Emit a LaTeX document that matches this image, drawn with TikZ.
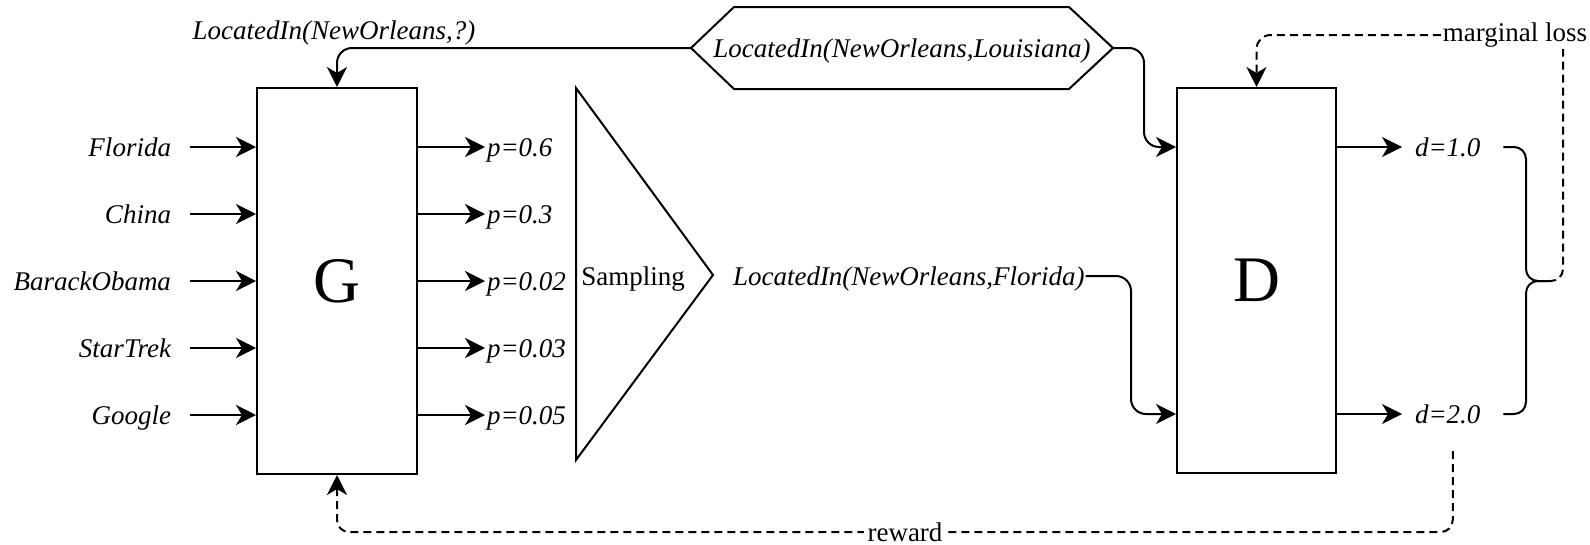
\documentclass[tikz,border=0pt]{standalone}
\usepackage{fontspec}
\setmainfont{Liberation Serif}
\usetikzlibrary{arrows.meta,calc}
\begin{document}
\begin{tikzpicture}[x=1pt,y=-1pt,
  line width=2pt,
  lbl/.style={font=\fontsize{27}{32}\selectfont\itshape, inner sep=0pt, text height=18pt, text depth=0pt},
  plain/.style={font=\fontsize{27}{32}\selectfont, inner sep=0pt, text height=18pt, text depth=0pt},
  block/.style={draw, minimum width=160pt, minimum height=386pt, inner sep=0pt, font=\fontsize{65}{70}\selectfont},
  arr/.style={-{Stealth[length=20pt,width=20pt,inset=6pt]}},
  fb/.style={dash pattern=on 8pt off 5pt},
]
\useasboundingbox (0,0) rectangle (1590,544);

% generator and discriminator
\node[block] (G) at (337,281) {G};
\node[block, minimum width=159pt, minimum height=385pt] (D) at (1256.5,280.5) {D};

% candidate entities fed into G
\foreach \nm/\txt/\y in {i1/Florida/147, i2/China/214, i3/BarackObama/281, i4/StarTrek/348, i5/Google/415} {
  \node[lbl, anchor=east] (\nm) at (172,\y) {\txt};
  \draw[arr] ([xshift=18pt]\nm.east) -- (\nm -| G.west);
}

% probabilities produced by G
\foreach \nm/\txt/\y in {o1/0.6/147, o2/0.3/214, o3/0.02/281, o4/0.03/348, o5/0.05/415} {
  \node[lbl, anchor=west] (\nm) at (486,\y) {p=\txt};
  \draw[arr] (G.east |- \nm) -- ([xshift=-1pt]\nm.west);
}

% sampling stage
\draw (576,88) -- (713,275) -- (576,460) -- cycle;
\node[plain] (samp) at (633,276) {Sampling};

% query and true triple
\node[lbl] (q) at (334,30) {LocatedIn(NewOrleans,?)};
\node[lbl, minimum width=420pt, minimum height=80pt] (hex) at (902,48) {LocatedIn(NewOrleans,Louisiana)};
\draw (hex.west) -- ([xshift=43pt]hex.north west) -- ([xshift=-44pt]hex.north east) -- (hex.east)
      -- ([xshift=-44pt]hex.south east) -- ([xshift=43pt]hex.south west) -- cycle;

% sampled (negative) triple
\node[lbl, anchor=west] (fl) at (732,276) {LocatedIn(NewOrleans,Florida)};

% discriminator scores
\node[lbl, anchor=west] (d1) at (1414,147) {d=1.0};
\node[lbl, anchor=west] (d2) at (1414,414) {d=2.0};
\draw[arr] (D.east |- d1) -- ([xshift=-12pt]d1.west);
\draw[arr] (D.east |- d2) -- ([xshift=-12pt]d2.west);

% inputs of G and D
\draw[arr, rounded corners=15] (hex.west) -| (G.north);
\draw[arr, rounded corners=15] (hex.east) -- ($(D.west |- hex.east)+(-32,0)$) |- (D.west |- d1);
\draw[arr, rounded corners=15] (fl.east) -- ($(D.west |- fl.east)+(-45,0)$) |- (D.west |- d2);

% brace grouping the two scores
\coordinate (bt) at (1548,281);
\draw[rounded corners=12] ([xshift=22pt]d1.east) -| ($(bt)+(-22,0)$) -- (bt);
\draw[rounded corners=12] ([xshift=22pt]d2.east) -| ($(bt)+(-22,0)$) -- (bt);

% marginal loss feedback to D
\node[plain, anchor=base, text depth=6pt, inner sep=1pt] (ml) at (1515,41) {marginal loss};
\draw[fb, rounded corners=12] (bt) -| ([xshift=48pt]ml.south);
\draw[fb, arr, rounded corners=14] (ml.west) -| (D.north);

% reward feedback to G
\coordinate (rw) at (905,532);
\draw[fb, arr, rounded corners=12] ([xshift=5pt, yshift=-27pt]d2.south) |- (rw) -| (G.south);
\node[plain, fill=white, inner xsep=4pt, inner ysep=0pt] (reward) at (rw) {reward};
\end{tikzpicture}
\end{document}
